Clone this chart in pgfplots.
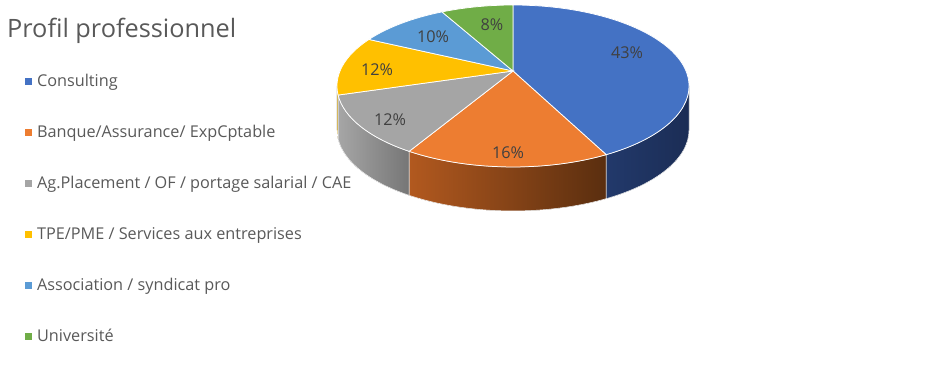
\documentclass[border=0pt]{standalone}
\usepackage{pgfplots}
\pgfplotsset{compat=1.18}
\usepackage{pgfplotstable}
\usepackage{fontspec}
\setmainfont{Open Sans}

\definecolor{c0}{HTML}{4472C4}\definecolor{l0}{HTML}{22396B}\definecolor{r0}{HTML}{1B2D55}
\definecolor{c1}{HTML}{ED7D31}\definecolor{l1}{HTML}{B2591F}\definecolor{r1}{HTML}{5A2E0F}
\definecolor{c2}{HTML}{A5A5A5}\definecolor{l2}{HTML}{A6A6A6}\definecolor{r2}{HTML}{767676}
\definecolor{c3}{HTML}{FFC000}\definecolor{l3}{HTML}{BF9000}\definecolor{r3}{HTML}{A67C00}
\definecolor{c4}{HTML}{5B9BD5}\definecolor{l4}{HTML}{41719C}\definecolor{r4}{HTML}{2E5A80}
\definecolor{c5}{HTML}{70AD47}\definecolor{l5}{HTML}{548235}\definecolor{r5}{HTML}{3F6428}
\definecolor{ttl}{HTML}{595959}
\definecolor{labtxt}{HTML}{404040}

\pgfplotstableread[col sep=semicolon]{
label;value;lx;ly
Consulting;43;627;53
Banque/Assurance/ ExpCptable;16;508;153
Ag.Placement / OF / portage salarial / CAE;12;390;120
TPE/PME / Services aux entreprises;12;377;70
Association / syndicat pro;10;433;37
Université;8;492;25
}\slices

\newcommand\setg[2]{\expandafter\xdef\csname #1\endcsname{#2}}
\newcommand\phiof[1]{%
  \pgfmathsetmacro\myden{1+\kk*sin(#1)}%
  \pgfmathsetmacro\myraw{atan2((1-\kk*\kk)*sin(#1)/\myden+\kk, sqrt(1-\kk*\kk)*cos(#1)/\myden)}%
  \pgfmathsetmacro\phires{#1+mod(\myraw-(#1)+540,360)-180}%
}

\begin{document}
\begin{tikzpicture}
% geometry of the perspective pie (pixel units)
\xdef\cx{513}\xdef\cy{-71}\xdef\sx{173}\xdef\sy{78.2}\xdef\kk{0.185}\xdef\dep{44}
\pgfmathsetmacro\tmp{\cx}\xdef\ex{\tmp}
\pgfmathsetmacro\tmp{\cy-\sy*\kk/(1-\kk*\kk)}\xdef\ey{\tmp}
\pgfmathsetmacro\tmp{\sx/sqrt(1-\kk*\kk)}\xdef\rx{\tmp}
\pgfmathsetmacro\tmp{\sy/(1-\kk*\kk)}\xdef\ry{\tmp}
\pgfplotstablegetrowsof{\slices}\pgfmathtruncatemacro\N{\pgfplotsretval}
\pgfmathtruncatemacro\tmp{\N-1}\xdef\Nm{\tmp}
\xdef\total{0}
\pgfplotsforeachungrouped \i in {0,...,\Nm}{%
  \pgfplotstablegetelem{\i}{value}\of\slices
  \pgfmathsetmacro\tmp{\total+\pgfplotsretval}\xdef\total{\tmp}%
}
\xdef\cum{0}
\pgfplotsforeachungrouped \i in {0,...,\Nm}{%
  \pgfplotstablegetelem{\i}{value}\of\slices \let\myv\pgfplotsretval
  \setg{pv\i}{\myv}%
  \pgfmathsetmacro\myta{90-360*(\cum/\total)}%
  \pgfmathsetmacro\tmp{\cum+\myv}\xdef\cum{\tmp}%
  \pgfmathsetmacro\mytb{90-360*(\cum/\total)}%
  \phiof{\myta}\let\mypa\phires
  \phiof{\mytb}\let\mypb\phires
  \setg{pa\i}{\mypa}\setg{pb\i}{\mypb}%
  \pgfmathsetmacro\tmp{\ex+\rx*cos(\mypa)}\setg{pax\i}{\tmp}%
  \pgfmathsetmacro\tmp{\ey+\ry*sin(\mypa)}\setg{pay\i}{\tmp}%
  \pgfmathsetmacro\myhi{min(\mypa,0)}\pgfmathsetmacro\mylo{max(\mypb,-180)}%
  \pgfmathtruncatemacro\has{(\myhi>\mylo+0.01)?1:0}%
  \setg{has\i}{\has}\setg{hi\i}{\myhi}\setg{lo\i}{\mylo}%
  \pgfmathsetmacro\tmp{\ex+\rx*cos(\myhi)}\setg{hix\i}{\tmp}%
  \pgfmathsetmacro\tmp{\ey+\ry*sin(\myhi)}\setg{hiy\i}{\tmp}%
  \pgfmathsetmacro\tmp{\ex+\rx*cos(\mylo)}\setg{lox\i}{\tmp}%
  \pgfmathsetmacro\tmp{\ey+\ry*sin(\mylo)-\dep}\setg{loy\i}{\tmp}%
  \pgfplotstablegetelem{\i}{lx}\of\slices\setg{lx\i}{\pgfplotsretval}%
  \pgfplotstablegetelem{\i}{ly}\of\slices\setg{ly\i}{\pgfplotsretval}%
  \pgfplotstablegetelem{\i}{label}\of\slices\setg{lab\i}{\pgfplotsretval}%
}
\begin{axis}[x=1pt, y=1pt, xmin=0, xmax=933, ymin=-368, ymax=0,
  hide axis, clip=false, scale only axis,
  legend image code/.code={\fill[#1] (0pt,2.7pt) rectangle (6pt,8.7pt);},
  legend style={at={(0.0268,0.797)}, anchor=north west, draw=none, fill=none,
    inner sep=0pt, row sep=35pt, text=ttl,
    font=\fontsize{16.25}{19}\selectfont,
    nodes={inner sep=0pt, text height=12pt, text depth=4pt, anchor=base west},
    /tikz/every odd column/.append style={column sep=5.5pt}},
]
% full canvas
\path[draw=none, fill=none] (axis cs:0,-368) rectangle (axis cs:933,0);
% side walls
\pgfplotsinvokeforeach{0,...,\Nm}{%
  \ifnum\csname has#1\endcsname=1\relax
  \fill[left color=l#1, right color=r#1, draw=white, line width=0.5pt]
    (axis cs:\csname hix#1\endcsname,\csname hiy#1\endcsname)
    arc[start angle=\csname hi#1\endcsname, end angle=\csname lo#1\endcsname, x radius=\rx pt, y radius=\ry pt]
    -- (axis cs:\csname lox#1\endcsname,\csname loy#1\endcsname)
    arc[start angle=\csname lo#1\endcsname, end angle=\csname hi#1\endcsname, x radius=\rx pt, y radius=\ry pt]
    -- cycle;
  \fi
}
% top faces
\pgfplotsinvokeforeach{0,...,\Nm}{%
  \fill[c#1, draw=white, line width=0.75pt]
    (axis cs:\cx,\cy) -- (axis cs:\csname pax#1\endcsname,\csname pay#1\endcsname)
    arc[start angle=\csname pa#1\endcsname, end angle=\csname pb#1\endcsname, x radius=\rx pt, y radius=\ry pt]
    -- cycle;
}
% percentage labels
\pgfplotsinvokeforeach{0,...,\Nm}{%
  \node[font=\fontsize{16.25}{19}\selectfont, text=labtxt, inner sep=0pt]
    at (axis cs:\csname lx#1\endcsname,-\csname ly#1\endcsname) {\csname pv#1\endcsname\%};
}
% legend
\pgfplotsinvokeforeach{0,...,\Nm}{%
  \addlegendimage{c#1}
  \addlegendentryexpanded{\csname lab#1\endcsname}
}
\node[anchor=base west, font=\fontsize{25.3}{30}\selectfont, text=ttl, inner sep=0pt]
  at (axis cs:7,-37) {Profil professionnel};
\end{axis}
\end{tikzpicture}
\end{document}
